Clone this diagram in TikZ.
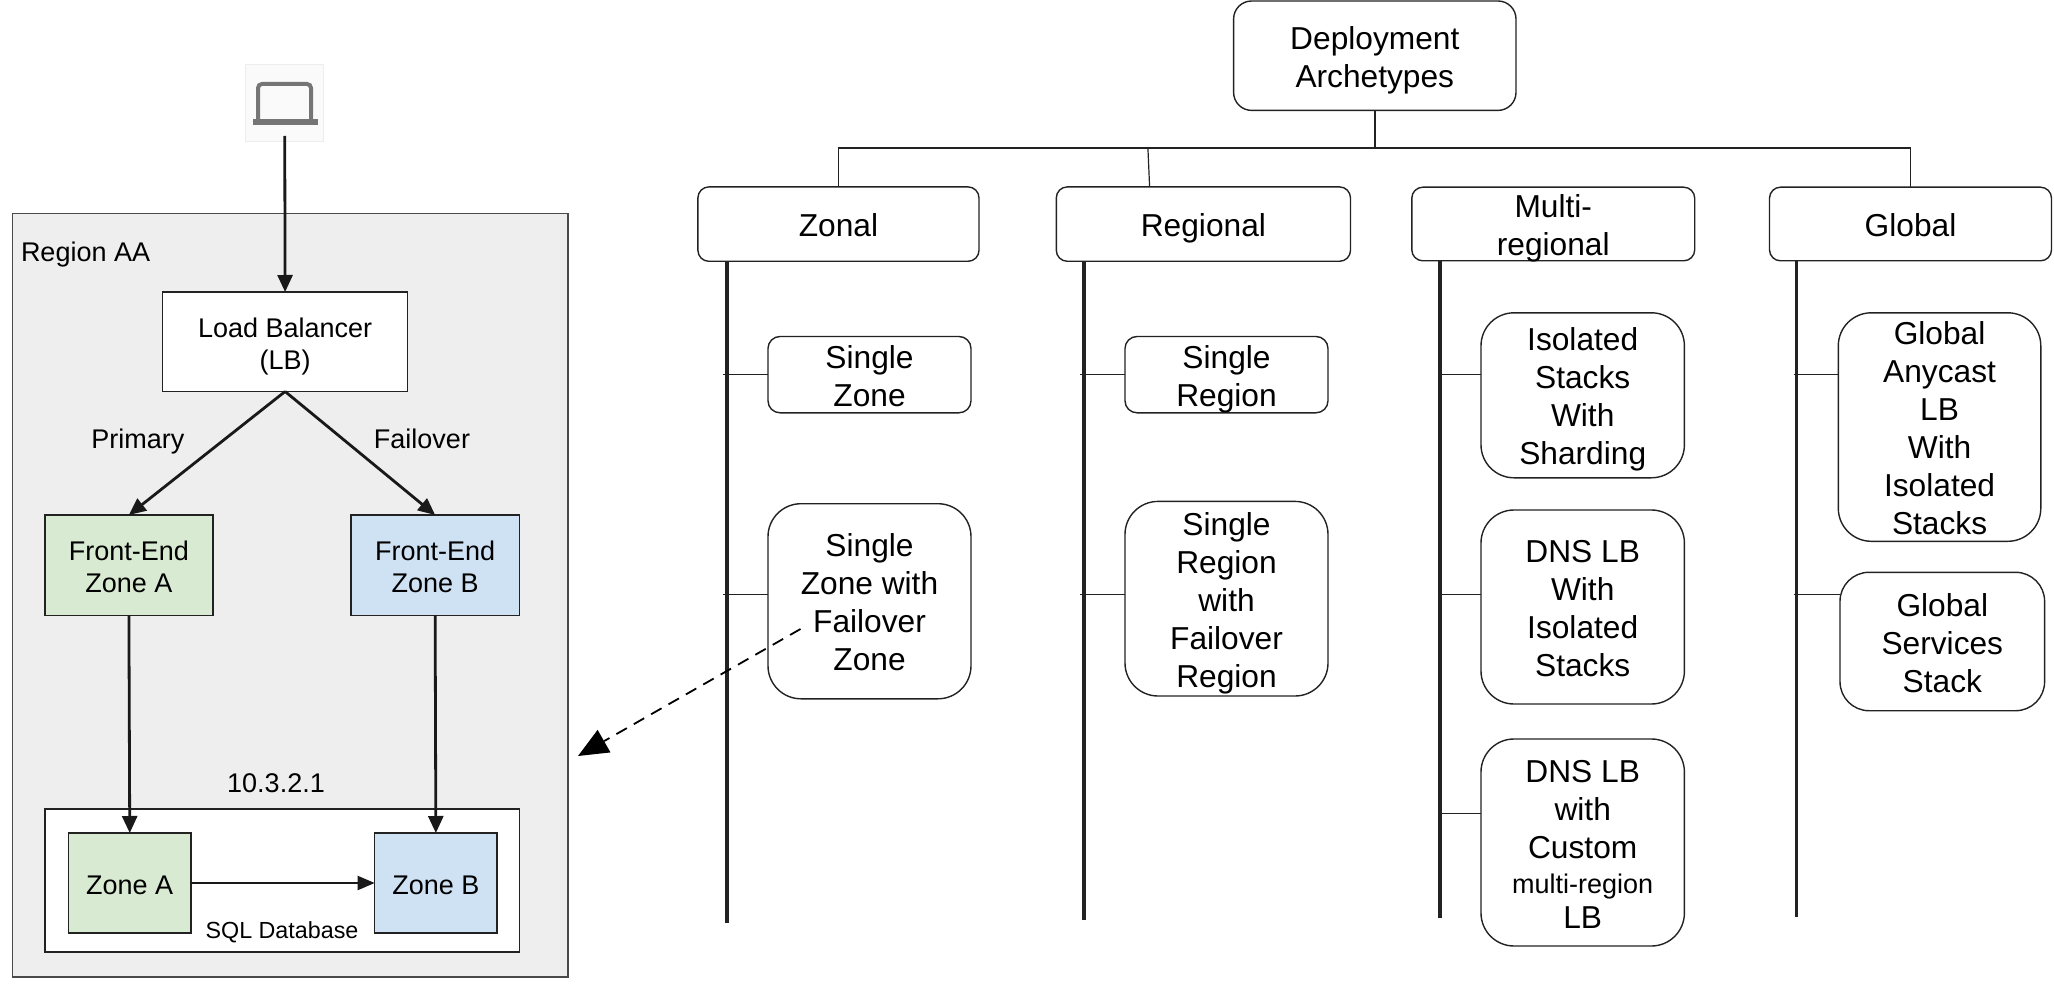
\documentclass[tikz,border=0pt]{standalone}
\usepackage{fontspec}
\setmainfont{Liberation Sans}
\usetikzlibrary{arrows.meta,calc}
\definecolor{regionfill}{HTML}{EEEEEE}
\definecolor{greenfill}{HTML}{D9EAD3}
\definecolor{bluefill}{HTML}{CFE2F3}
\definecolor{edge}{HTML}{222222}
\definecolor{regionedge}{HTML}{4A4A4A}
\definecolor{laptopgray}{HTML}{757575}
\newcommand{\bigtext}{\fontsize{31.7}{38}\selectfont}
\newcommand{\smalltext}{\fontsize{27}{32.4}\selectfont}
\newcommand{\dnstrut}[1]{\rule{0pt}{\dimexpr.7\baselineskip+#1pt\relax}}
% name, x1, y1, x2, y2, style, text
\newcommand{\bx}[7]{\node[#6,minimum width={#4-#2},minimum height={#5-#3}] (#1) at ({(#2+#4)/2},{(#3+#5)/2}) {\dnstrut{10}#7\strut};}
\tikzset{
  base/.style={draw=edge,line width=1.4pt,inner xsep=0pt,inner ysep=-40pt,outer sep=0pt,align=center},
  sharp/.style={base,font=\smalltext},
  cat/.style={base,rounded corners=11pt,font=\bigtext},
  small/.style={base,rounded corners=12pt,font=\bigtext},
  mid/.style={base,rounded corners=29pt,font=\bigtext},
  big/.style={base,rounded corners=33pt,font=\bigtext},
  tag/.style={inner sep=0pt,outer sep=0pt,font=\smalltext},
  bus/.style={draw=edge,line width=1.6pt},
  spine/.style={draw=edge,line width=3.4pt},
  tick/.style={draw=edge,line width=1.6pt},
  flow/.style={draw=black!90,line width=2.8pt,-{Triangle[length=17pt,width=15pt]}},
  thinflow/.style={draw=black!90,line width=2pt,-{Triangle[length=17pt,width=14pt]}},
  dashflow/.style={draw=black,line width=1.8pt,dash pattern=on 12pt off 8pt,-{Triangle[length=30pt,width=26pt,line width=0pt,round=false]}},
}
\begin{document}
\begin{tikzpicture}[x=1pt,y=-1pt]
\useasboundingbox (0,0) rectangle (2054,995);
% --- left panel
\bx{region}{12.2}{213.8}{568}{977}{base,draw=regionedge,fill=regionfill}{}
\node[tag,anchor=west] (regiontag) at (21,250.6) {\dnstrut{8}\strut Region AA\strut};
\bx{laptop}{245.7}{64.7}{323.8}{142}{draw=black!7,line width=1pt,fill=black!2,inner sep=0pt,outer sep=0pt}{}
\draw[laptopgray,line width=4pt,rounded corners=4pt] (258,119) -- (258,84) -- (311,84) -- (311,119);
\fill[laptopgray] (252.6,119.5) rectangle (317.6,125);
\bx{lb}{162.6}{292}{407.6}{391.5}{sharp,fill=white}{Load Balancer\\(LB)}
\bx{fea}{44.8}{515}{213}{615.5}{sharp,fill=greenfill}{Front-End\\Zone A}
\bx{feb}{351}{515}{519.3}{615.5}{sharp,fill=bluefill}{Front-End\\Zone B}
\node[tag] (primary) at (137.8,438) {\dnstrut{8}Primary\strut};
\node[tag] (failover) at (422,438) {\dnstrut{8}Failover\strut};
\node[tag] (ip) at (276,782) {\dnstrut{8}10.3.2.1\strut};
\bx{sql}{44.8}{809}{519.3}{952}{sharp,fill=white}{}
\bx{za}{68.5}{833}{191}{933}{sharp,fill=greenfill}{Zone A}
\bx{zb}{374.7}{833}{497}{933}{sharp,fill=bluefill}{Zone B}
\node[tag,font=\fontsize{23.3}{28}\selectfont] (sqltag) at (282,929.6) {\dnstrut{6}SQL Database\strut};
\draw[flow] ([yshift=6pt]laptop.south) -- (lb.north);
\draw[flow] (lb.south) -- (fea.north);
\draw[flow] (lb.south) -- (feb.north);
\draw[flow] (fea.south) -- (za.north);
\draw[flow] (feb.south) -- (zb.north);
\draw[thinflow] (za.east) -- (zb.west);
% --- tree
\bx{root}{1233.6}{1}{1516}{110.4}{base,rounded corners=18pt,font=\bigtext}{Deployment\\Archetypes}
\bx{zonal}{697.9}{186.9}{979}{261.3}{cat}{Zonal}
\bx{regional}{1056.3}{186.9}{1350.5}{261.3}{cat}{Regional}
\bx{multi}{1411.8}{187.2}{1694.7}{260.8}{cat}{Multi-\\regional}
\bx{global}{1769.5}{187.2}{2051.5}{260.8}{cat}{Global}
\bx{szone}{768}{336.5}{971}{412.8}{small}{Single\\Zone}
\bx{szfail}{768}{503.7}{971}{698.8}{big}{Single\\Zone with\\Failover\\Zone}
\bx{sreg}{1125}{336.5}{1328}{412.8}{small}{Single\\Region}
\bx{srfail}{1125}{501.4}{1328}{696}{big}{Single\\Region\\with\\Failover\\Region}
\bx{iso}{1481}{312.8}{1684.4}{477.8}{big}{Isolated\\Stacks\\With\\Sharding}
\bx{dnsiso}{1481}{510}{1684.4}{704}{big}{DNS LB\\With\\Isolated\\Stacks}
\bx{dnscus}{1481}{739}{1684.4}{946}{big}{DNS LB\\with\\Custom\\[-3pt]{\fontsize{27}{32}\selectfont multi-region}\\[-3pt]LB}
\bx{anycast}{1838.3}{312.8}{2040.8}{541.3}{big}{Global\\Anycast\\LB\\With\\Isolated\\Stacks}
\bx{gserv}{1840}{572.3}{2044.6}{710.7}{mid}{Global\\Services\\Stack}
% bus
\coordinate (busroot) at (root.south |- 0,147.8);
\coordinate (busreg) at (1147.9,147.8);
\coordinate (regtop) at (1149.6,186.9);
\draw[bus] (zonal.north) -- (zonal.north |- busroot) -- (global.north |- busroot) -- (global.north);
\draw[bus] (root.south) -- (busroot);
\draw[bus,line width=1.2pt] (busreg) -- (regtop);
% spines
\coordinate (sp1) at (726.9,261.3);  \coordinate (sp1e) at (726.9,923);
\coordinate (sp2) at (1084,261.3);   \coordinate (sp2e) at (1084,919.6);
\coordinate (sp3) at (1439.8,260.8); \coordinate (sp3e) at (1439.8,918);
\coordinate (sp4) at (1796.6,260.8); \coordinate (sp4e) at (1796.6,917);
\draw[spine] (sp1) -- (sp1e);
\draw[spine] (sp2) -- (sp2e);
\draw[spine] (sp3) -- (sp3e);
\draw[spine] (sp4) -- (sp4e);
% ticks
\coordinate (t1a) at (723.3,374.3);  \coordinate (t1b) at (723.3,594.6);
\coordinate (t2a) at (1080.4,374.3); \coordinate (t2b) at (1080.4,594.6);
\coordinate (t3a) at (1437.6,374.4); \coordinate (t3b) at (1437.6,594.5); \coordinate (t3c) at (1437.6,813.5);
\coordinate (t4a) at (1793.6,374.4); \coordinate (t4b) at (1793.6,594.5);
\draw[tick] (t1a) -- (t1a -| szone.west);
\draw[tick] (t1b) -- (t1b -| szfail.west);
\draw[tick] (t2a) -- (t2a -| sreg.west);
\draw[tick] (t2b) -- (t2b -| srfail.west);
\draw[tick] (t3a) -- (t3a -| iso.west);
\draw[tick] (t3b) -- (t3b -| dnsiso.west);
\draw[tick] (t3c) -- (t3c -| dnscus.west);
\draw[tick] (t4a) -- (t4a -| anycast.west);
\draw[tick] (t4b) -- (t4b -| gserv.west);
% dashed link
\coordinate (dashstart) at (800.5,629);
\coordinate (dashend) at (578,756);
\draw[dashflow] (dashstart) -- (dashend);
\end{tikzpicture}
\end{document}
